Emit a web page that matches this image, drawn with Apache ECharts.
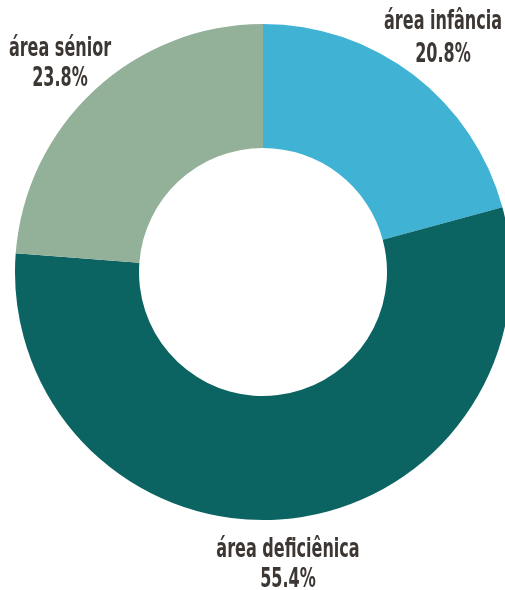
<!DOCTYPE html>
<html><head><meta charset="utf-8">
<script src="https://cdn.jsdelivr.net/npm/echarts@6/dist/echarts.min.js"></script>
<style>html,body{margin:0;padding:0;background:#fff}#c{width:505px;height:590px}</style>
</head><body><div id="c"></div>
<script>
const categories = ['área infância', 'área deficiênica', 'área sénior'];
const values = [20.8, 55.4, 23.8];
const colors = ['#40B3D5', '#0B6462', '#93B099'];
// label anchor: center x, top of name line, top of value line
const labelPos = [[443, 8, 41], [288, 536, 566], [60, 35, 65]];

const font = 'bold 27px "DejaVu Sans Condensed", "DejaVu Sans", sans-serif';
const graphics = [];
categories.forEach((n, i) => {
  const [x, y1, y2] = labelPos[i];
  graphics.push({type: 'text', x: x, y: y1, scaleX: 0.66,
    style: {text: n, font: font, fill: '#3d3734', align: 'center', verticalAlign: 'top'}});
  graphics.push({type: 'text', x: x, y: y2, scaleX: 0.66,
    style: {text: values[i].toFixed(1) + '%', font: font, fill: '#3d3734', align: 'center', verticalAlign: 'top'}});
});

const chart = echarts.init(document.getElementById('c'), null, {renderer: 'canvas'});
chart.setOption({
  animation: false,
  graphic: graphics,
  series: [{
    type: 'pie',
    center: [263, 272],
    radius: [124, 248],
    startAngle: 90,
    clockwise: true,
    data: categories.map((n, i) => ({name: n, value: values[i], itemStyle: {color: colors[i]}})),
    label: {show: false},
    labelLine: {show: false}
  }]
});
</script></body></html>
